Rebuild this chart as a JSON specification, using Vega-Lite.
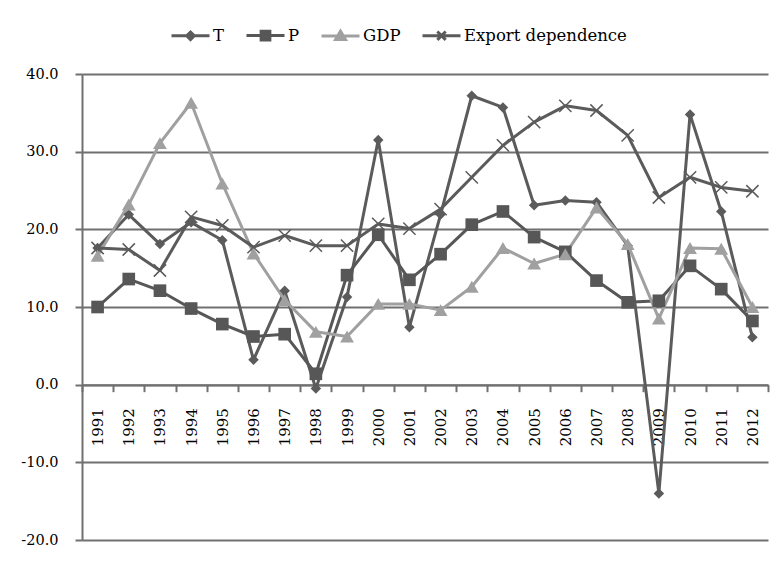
{
  "$schema": "https://vega.github.io/schema/vega-lite/v6.json",
  "width": 686,
  "height": 466,
  "autosize": {"type": "none"},
  "padding": {"left": 82, "top": 74, "right": 14, "bottom": 22},
  "background": "white",
  "config": {
    "view": {"stroke": null},
    "font": "DejaVu Serif",
    "axis": {"labelFont": "DejaVu Serif", "labelColor": "#000000", "labelFontSize": 14.5, "titleFont": "DejaVu Serif"},
    "legend": {"labelFont": "DejaVu Serif"}
  },
  "data": {"values": [
    {"year": "1991", "series": "T", "value": 17.6},
    {"year": "1992", "series": "T", "value": 21.9},
    {"year": "1993", "series": "T", "value": 18.1},
    {"year": "1994", "series": "T", "value": 20.9},
    {"year": "1995", "series": "T", "value": 18.6},
    {"year": "1996", "series": "T", "value": 3.2},
    {"year": "1997", "series": "T", "value": 12.1},
    {"year": "1998", "series": "T", "value": -0.5},
    {"year": "1999", "series": "T", "value": 11.3},
    {"year": "2000", "series": "T", "value": 31.5},
    {"year": "2001", "series": "T", "value": 7.4},
    {"year": "2002", "series": "T", "value": 21.9},
    {"year": "2003", "series": "T", "value": 37.2},
    {"year": "2004", "series": "T", "value": 35.7},
    {"year": "2005", "series": "T", "value": 23.1},
    {"year": "2006", "series": "T", "value": 23.7},
    {"year": "2007", "series": "T", "value": 23.5},
    {"year": "2008", "series": "T", "value": 17.9},
    {"year": "2009", "series": "T", "value": -14.0},
    {"year": "2010", "series": "T", "value": 34.8},
    {"year": "2011", "series": "T", "value": 22.3},
    {"year": "2012", "series": "T", "value": 6.1},
    {"year": "1991", "series": "P", "value": 10.0},
    {"year": "1992", "series": "P", "value": 13.6},
    {"year": "1993", "series": "P", "value": 12.1},
    {"year": "1994", "series": "P", "value": 9.8},
    {"year": "1995", "series": "P", "value": 7.8},
    {"year": "1996", "series": "P", "value": 6.2},
    {"year": "1997", "series": "P", "value": 6.5},
    {"year": "1998", "series": "P", "value": 1.4},
    {"year": "1999", "series": "P", "value": 14.1},
    {"year": "2000", "series": "P", "value": 19.3},
    {"year": "2001", "series": "P", "value": 13.5},
    {"year": "2002", "series": "P", "value": 16.8},
    {"year": "2003", "series": "P", "value": 20.6},
    {"year": "2004", "series": "P", "value": 22.3},
    {"year": "2005", "series": "P", "value": 19.0},
    {"year": "2006", "series": "P", "value": 17.1},
    {"year": "2007", "series": "P", "value": 13.4},
    {"year": "2008", "series": "P", "value": 10.6},
    {"year": "2009", "series": "P", "value": 10.8},
    {"year": "2010", "series": "P", "value": 15.3},
    {"year": "2011", "series": "P", "value": 12.3},
    {"year": "2012", "series": "P", "value": 8.2},
    {"year": "1991", "series": "GDP", "value": 16.6},
    {"year": "1992", "series": "GDP", "value": 23.2},
    {"year": "1993", "series": "GDP", "value": 31.1},
    {"year": "1994", "series": "GDP", "value": 36.3},
    {"year": "1995", "series": "GDP", "value": 25.9},
    {"year": "1996", "series": "GDP", "value": 16.9},
    {"year": "1997", "series": "GDP", "value": 10.9},
    {"year": "1998", "series": "GDP", "value": 6.8},
    {"year": "1999", "series": "GDP", "value": 6.2},
    {"year": "2000", "series": "GDP", "value": 10.4},
    {"year": "2001", "series": "GDP", "value": 10.4},
    {"year": "2002", "series": "GDP", "value": 9.6},
    {"year": "2003", "series": "GDP", "value": 12.6},
    {"year": "2004", "series": "GDP", "value": 17.6},
    {"year": "2005", "series": "GDP", "value": 15.6},
    {"year": "2006", "series": "GDP", "value": 16.8},
    {"year": "2007", "series": "GDP", "value": 22.8},
    {"year": "2008", "series": "GDP", "value": 18.1},
    {"year": "2009", "series": "GDP", "value": 8.5},
    {"year": "2010", "series": "GDP", "value": 17.6},
    {"year": "2011", "series": "GDP", "value": 17.5},
    {"year": "2012", "series": "GDP", "value": 10.0},
    {"year": "1991", "series": "Export dependence", "value": 17.6},
    {"year": "1992", "series": "Export dependence", "value": 17.4},
    {"year": "1993", "series": "Export dependence", "value": 14.7},
    {"year": "1994", "series": "Export dependence", "value": 21.6},
    {"year": "1995", "series": "Export dependence", "value": 20.5},
    {"year": "1996", "series": "Export dependence", "value": 17.7},
    {"year": "1997", "series": "Export dependence", "value": 19.2},
    {"year": "1998", "series": "Export dependence", "value": 17.9},
    {"year": "1999", "series": "Export dependence", "value": 17.9},
    {"year": "2000", "series": "Export dependence", "value": 20.7},
    {"year": "2001", "series": "Export dependence", "value": 20.1},
    {"year": "2002", "series": "Export dependence", "value": 22.6},
    {"year": "2003", "series": "Export dependence", "value": 26.7},
    {"year": "2004", "series": "Export dependence", "value": 30.8},
    {"year": "2005", "series": "Export dependence", "value": 33.8},
    {"year": "2006", "series": "Export dependence", "value": 35.9},
    {"year": "2007", "series": "Export dependence", "value": 35.3},
    {"year": "2008", "series": "Export dependence", "value": 32.1},
    {"year": "2009", "series": "Export dependence", "value": 24.1},
    {"year": "2010", "series": "Export dependence", "value": 26.7},
    {"year": "2011", "series": "Export dependence", "value": 25.4},
    {"year": "2012", "series": "Export dependence", "value": 24.9}
  ]},
  "encoding": {
    "x": {
      "field": "year", "type": "ordinal",
      "scale": {"type": "band", "paddingInner": 0, "paddingOuter": 0},
      "axis": {
        "title": null, "offset": -155.33, "labelAngle": -90, "labelAlign": "right", "labelBaseline": "middle",
        "labelPadding": 16, "tickSize": 7, "tickBand": "extent", "tickColor": "#707070", "tickWidth": 2,
        "domainColor": "#707070", "domainWidth": 2, "grid": false, "labelFontSize": 15
      }
    },
    "y": {
      "field": "value", "type": "quantitative",
      "scale": {"domain": [-20, 40], "nice": false, "zero": false},
      "axis": {
        "title": null, "values": [-20, -10, 0, 10, 20, 30, 40],
        "labelExpr": "replace(format(datum.value, '.1f'), '\u2212', '-')",
        "grid": true, "gridColor": "#707070", "gridWidth": 2,
        "domainColor": "#707070", "domainWidth": 2,
        "tickColor": "#707070", "tickWidth": 2, "tickSize": 7, "labelPadding": 17
      }
    }
  },
  "layer": [
    {
      "mark": {"type": "line", "strokeWidth": 3, "strokeJoin": "round"},
      "encoding": {
        "color": {
          "field": "series", "type": "nominal",
          "scale": {"domain": ["T", "P", "GDP", "Export dependence"], "range": ["#5b5b5b", "#575757", "#a0a0a0", "#5b5b5b"]},
          "legend": {
            "title": null, "orient": "none", "legendX": 88, "legendY": -59, "direction": "horizontal",
            "symbolSize": 1444, "labelOffset": 2, "columnPadding": 15, "labelFontSize": 16.5, "labelColor": "#000000",
            "labelLimit": 400, "symbolStrokeWidth": 3,
            "encode": {
              "symbols": {
                "update": {
                  "shape": {"signal": "datum.value === 'T' ? 'M-1,0H1M0,-0.2L0.2,0L0,0.2L-0.2,0Z' : datum.value === 'P' ? 'M-1,0H1M-0.23,-0.23H0.23V0.23H-0.23Z' : datum.value === 'GDP' ? 'M-1,0H1M-0.26,0.18L0.26,0.18L0,-0.26Z' : 'M-1,0H1M-0.22,-0.22L0.22,0.22M0.22,-0.22L-0.22,0.22'"},
                  "fill": {"scale": "color", "field": "value"},
                  "stroke": {"scale": "color", "field": "value"},
                  "strokeWidth": {"value": 3},
                  "opacity": {"value": 1}
                }
              }
            }
          }
        }
      }
    },
    {
      "transform": [{"filter": "datum.series === 'T'"}],
      "mark": {"type": "point", "shape": "diamond", "size": 110, "filled": true, "color": "#5b5b5b", "opacity": 1}
    },
    {
      "transform": [{"filter": "datum.series === 'P'"}],
      "mark": {"type": "point", "shape": "square", "size": 160, "filled": true, "color": "#575757", "opacity": 1}
    },
    {
      "transform": [{"filter": "datum.series === 'GDP'"}],
      "mark": {"type": "point", "shape": "triangle-up", "size": 190, "filled": true, "color": "#a0a0a0", "opacity": 1}
    },
    {
      "transform": [{"filter": "datum.series === 'Export dependence'"}],
      "mark": {"type": "point", "shape": "M-1,-1L1,1M1,-1L-1,1", "size": 150, "filled": false, "color": "#5b5b5b", "strokeWidth": 1.5, "opacity": 1}
    }
  ]
}
